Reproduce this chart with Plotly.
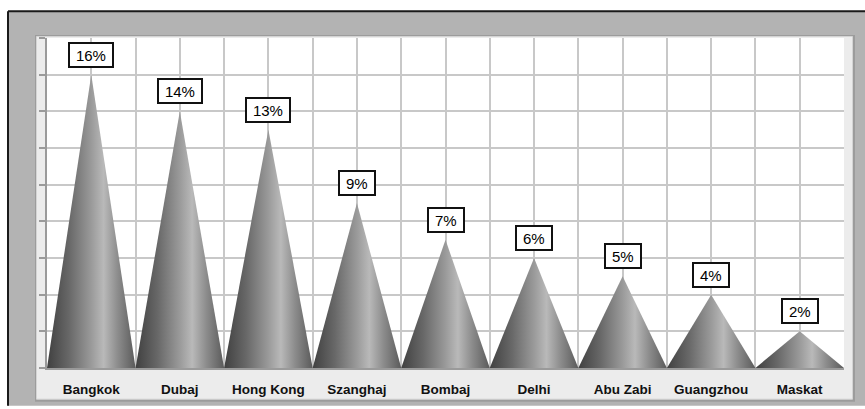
import plotly.graph_objects as go

cities = ["Bangkok", "Dubaj", "Hong Kong", "Szanghaj", "Bombaj", "Delhi", "Abu Zabi", "Guangzhou", "Maskat"]
shares = [16, 14, 13, 9, 7, 6, 5, 4, 2]
labels = [f"{v}%" for v in shares]

W_PX, H_PX = 865, 409
ML, MR, MT, MB = 47, 21, 38, 38
PW, PH = W_PX - ML - MR, H_PX - MT - MB


def px_x(p):
    return (p - ML) / PW


def px_y(p):
    return (H_PX - MB - p) / PH


cone_scale = [
    [0.0, "#404040"],
    [0.25, "#686868"],
    [0.5, "#9a9a9a"],
    [0.64, "#b9b9b9"],
    [0.8, "#8c8c8c"],
    [1.0, "#5a5a5a"],
]

fig = go.Figure()
for i, (c, v) in enumerate(zip(cities, shares)):
    fig.add_trace(go.Scatter(
        x=[i - 0.5, i, i + 0.5, i - 0.5],
        y=[0, v, 0, 0],
        mode="lines",
        line=dict(width=0, color="#555"),
        fill="toself",
        fillgradient=dict(type="horizontal", colorscale=cone_scale),
        hoverinfo="skip",
        showlegend=False,
        name=c,
    ))

for i, (v, t) in enumerate(zip(shares, labels)):
    fig.add_annotation(
        x=i, y=v, xref="x", yref="y", text=t, showarrow=False,
        yanchor="bottom", yshift=7,
        font=dict(family="Liberation Sans, Arial", size=15, color="#000"),
        bgcolor="white", bordercolor="#111", borderwidth=2, borderpad=2,
        width=8.3 * len(t) + 13, height=18,
    )

shapes = [
    # outer gray frame
    dict(type="rect", xref="paper", yref="paper",
         x0=px_x(8), x1=px_x(865), y0=px_y(11), y1=px_y(409),
         fillcolor="#b3b3b3", line=dict(width=0), layer="below"),
    # black top and left border lines
    dict(type="line", xref="paper", yref="paper",
         x0=px_x(8), x1=px_x(865), y0=px_y(11), y1=px_y(11),
         line=dict(color="#1a1a1a", width=2), layer="below"),
    dict(type="line", xref="paper", yref="paper",
         x0=px_x(8), x1=px_x(8), y0=px_y(11), y1=px_y(409),
         line=dict(color="#1a1a1a", width=2), layer="below"),
    # inner panel shadow
    dict(type="rect", xref="paper", yref="paper",
         x0=px_x(35), x1=px_x(855), y0=px_y(35), y1=px_y(405),
         fillcolor="#9c9c9c", line=dict(width=0), layer="below"),
    # inner light panel
    dict(type="rect", xref="paper", yref="paper",
         x0=px_x(36.5), x1=px_x(852.5), y0=px_y(36.5), y1=px_y(402.5),
         fillcolor="#ececec", line=dict(color="#d4d4d4", width=1), layer="below"),
    # white plot area
    dict(type="rect", xref="paper", yref="paper",
         x0=0, x1=1, y0=0, y1=1,
         fillcolor="white", line=dict(width=0), layer="below"),
]

fig.update_layout(
    width=W_PX, height=H_PX,
    margin=dict(l=ML, r=MR, t=MT, b=MB),
    paper_bgcolor="white",
    plot_bgcolor="white",
    shapes=shapes,
    showlegend=False,
    xaxis=dict(
        range=[-0.5, 8.5],
        tickmode="array", tickvals=list(range(len(cities))), ticktext=cities,
        tickfont=dict(family="Liberation Sans, Arial", size=13.5, color="#111", weight="bold"),
        showgrid=True, gridcolor="#c8c8c8", gridwidth=2,
        minor=dict(tickmode="array", tickvals=[i + 0.5 for i in range(len(cities))],
                   showgrid=True, gridcolor="#c8c8c8", gridwidth=2),
        ticks="outside", ticklen=8, tickcolor="rgba(0,0,0,0)",
        showline=True, linecolor="#9a9a9a", linewidth=2,
        zeroline=False, fixedrange=True,
    ),
    yaxis=dict(
        range=[0, 18], dtick=2, showticklabels=False,
        ticks="outside", ticklen=6, tickcolor="#9a9a9a", tickwidth=2,
        showgrid=True, gridcolor="#c8c8c8", gridwidth=2,
        showline=True, linecolor="#9a9a9a", linewidth=2,
        zeroline=False, fixedrange=True,
    ),
)

fig.write_html("out.html")
